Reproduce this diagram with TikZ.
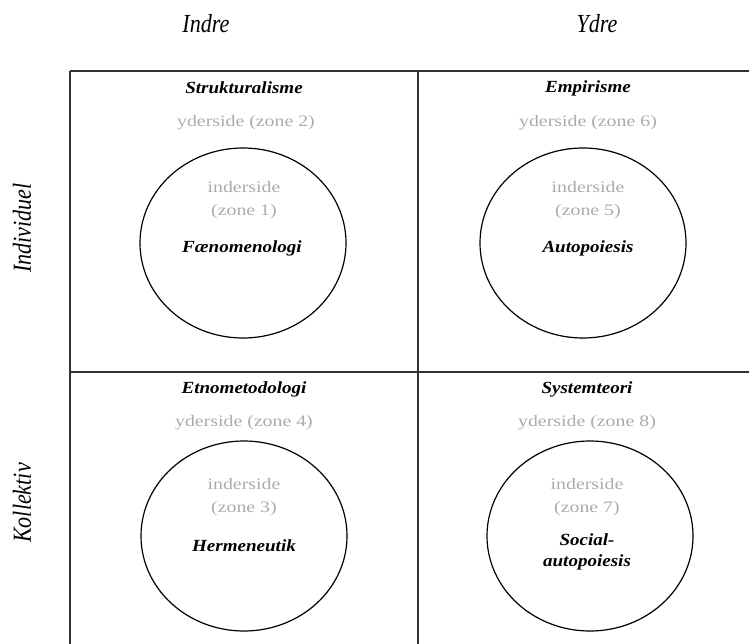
\documentclass[tikz,border=0pt]{standalone}
\usepackage{fontspec}
\setmainfont{Liberation Serif}
\newfontfamily\aksefont[FakeStretch=0.85]{Liberation Serif}
\newfontfamily\skolefont[FakeStretch=1.12]{Liberation Serif}
\newfontfamily\zonefont[FakeStretch=1.24]{Liberation Serif}
\usetikzlibrary{shapes.geometric}

\tikzset{
    akse/.style={font=\aksefont\fontsize{26}{28}\selectfont\itshape},
    skole/.style={font=\skolefont\fontsize{17}{21}\selectfont\bfseries\itshape},
    zone/.style={text=black!33, font=\zonefont\fontsize{16}{23}\selectfont, align=center},
    kerne/.style={ellipse, draw=black, line width=1.2pt, minimum width=206pt, minimum height=190pt, inner sep=0pt},
}

\begin{document}
\begin{tikzpicture}[x=1pt, y=-1pt, auto]
        \useasboundingbox (0,0) rectangle (749,644);

        % felter
        \draw[line width=1.6pt, black!80] (70,71) -- (749,71) (70,372) -- (749,372)
            (70,71) -- (70,644) (418,71) -- (418,644);

        \node[akse, name=indre] at (206,24) {Indre};
        \node[akse, name=ydre] at (597,24) {Ydre};
        \node[akse, rotate=90, name=indiv] at (22,228) {Individuel};
        \node[akse, rotate=90, name=koll] at (22,503) {Kollektiv};

        \node[kerne, name=c1] at (243,243) {};
        \node[kerne, name=c5] at (583,243) {};
        \node[kerne, name=c3] at (244,536) {};
        \node[kerne, name=c7] at (590,536) {};

        \node[skole, name=s2] at (244,88) {Strukturalisme};
        \node[zone, name=z2] at (246,123) {yderside (zone 2)};
        \node[zone, name=z1] at (244,200) {inderside\\(zone 1)};
        \node[skole, name=f1] at (242,248) {Fænomenologi};

        \node[skole, name=s6] at (588,88) {Empirisme};
        \node[zone, name=z6] at (588,123) {yderside (zone 6)};
        \node[zone, name=z5] at (588,200) {inderside\\(zone 5)};
        \node[skole, name=f5] at (588,248) {Autopoiesis};

        \node[skole, name=s4] at (244,389) {Etnometodologi};
        \node[zone, name=z4] at (244,423) {yderside (zone 4)};
        \node[zone, name=z3] at (244,497) {inderside\\(zone 3)};
        \node[skole, name=f3] at (244,546) {Hermeneutik};

        \node[skole, name=s8] at (587,389) {Systemteori};
        \node[zone, name=z8] at (587,423) {yderside (zone 8)};
        \node[zone, name=z7] at (587,497) {inderside\\(zone 7)};
        \node[skole, align=center, name=f7] at (587,552) {Social-\\autopoiesis};
    \end{tikzpicture}
\end{document}
